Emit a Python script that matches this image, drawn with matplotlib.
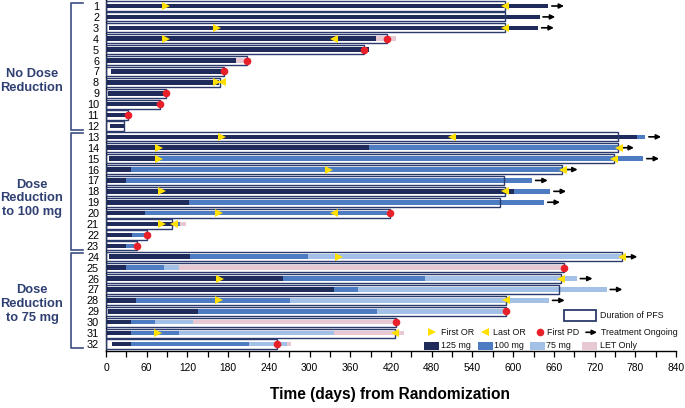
import numpy as np
import matplotlib
matplotlib.use("Agg")
import matplotlib.pyplot as plt
from matplotlib.patches import Rectangle
from matplotlib.lines import Line2D
from matplotlib.ticker import MultipleLocator

nan = np.nan

# patient rows, top to bottom
patients = list(range(1, 33))
# treatment start and cumulative end of each dose phase (days)
start = [0, 0, 4, 0, 0, 0, 7, 0, 3, 0, 0, 6,
         0, 0, 4, 0, 0, 0, 0, 0, 0, 0, 0,
         5, 0, 0, 0, 0, 3, 0, 0, 9]
end_125 = [652, 639, 637, 398, 388, 191, 175, 167, 88, 78, 32, 27,
           783, 388, 74, 37, 29, 601, 122, 57, 97, 39, 30,
           124, 29, 261, 336, 44, 136, 37, 37, 37]
end_100 = [652, 639, 637, 398, 388, 191, 175, 167, 88, 78, 32, 27,
           795, 755, 792, 672, 628, 655, 646, 414, 109, 60, 45,
           298, 85, 470, 372, 271, 400, 72, 107, 211]
end_75 = [652, 639, 637, 398, 388, 191, 175, 167, 88, 78, 32, 27,
          795, 755, 792, 672, 628, 655, 646, 414, 109, 60, 45,
          760, 108, 694, 738, 653, 588, 128, 336, 266]
end_let = [652, 639, 637, 427, 388, 214, 175, 167, 92, 78, 32, 27,
           795, 755, 792, 672, 628, 655, 646, 414, 118, 66, 45,
           760, 675, 694, 738, 653, 588, 428, 439, 273]
pfs = [588, 588, 588, 414, 380, 208, 174, 168, 88, 79, 32, 27,
       755, 755, 749, 672, 587, 588, 581, 419, 97, 60, 45,
       760, 675, 670, 668, 590, 590, 428, 426, 252]
first_or = [89, nan, 163, 89, nan, nan, nan, 164, nan, nan, nan, nan,
            171, 78, 78, 329, nan, 83, nan, 167, 82, nan, nan,
            343, nan, 168, nan, 166, nan, nan, 77, nan]
last_or = [588, nan, 588, 336, nan, nan, nan, 171, nan, nan, nan, nan,
           510, 756, 749, 673, nan, 588, nan, 336, 100, nan, nan,
           760, nan, 671, nan, 590, nan, nan, 426, nan]
first_pd = [nan, nan, nan, 414, 380, 208, 174, nan, 88, 79, 32, nan,
            nan, nan, nan, nan, nan, nan, nan, 419, nan, 60, 45,
            nan, 675, nan, nan, nan, 590, 428, nan, 252]
ongoing = [1, 1, 1, 0, 0, 0, 0, 0, 0, 0, 0, 0,
           1, 1, 1, 1, 1, 1, 1, 0, 0, 0, 0,
           1, 0, 1, 1, 1, 0, 0, 0, 0]

groups = ["No Dose\nReduction", "Dose\nReduction\nto 100 mg", "Dose\nReduction\nto 75 mg"]
group_rows = [(1, 12), (13, 23), (24, 32)]

dose_labels = ["125 mg", "100 mg", "75 mg", "LET Only"]
dose_colors = ["#1f2b5b", "#4d7cc3", "#a3c0e6", "#e8c8d2"]
navy = "#2b3a6c"
label_col = "#2e3f72"
yellow = "#ffe000"
red = "#e8202a"
fam = ["Liberation Sans", "DejaVu Sans"]

W, H = 685, 408
fig = plt.figure(figsize=(W / 100, H / 100), dpi=100)
ax = fig.add_axes([106 / W, (H - 351) / H, (676 - 106) / W, 351 / H])

y = np.array(patients)
bar_h = 0.42
lefts = np.array(start)
for ends, c in zip([end_125, end_100, end_75, end_let], dose_colors):
    ends = np.array(ends)
    ax.barh(y, ends - lefts, left=lefts, height=bar_h, color=c, linewidth=0, zorder=2)
    lefts = np.maximum(lefts, ends)

# PFS boxes
ax.barh(y, pfs, left=0, height=0.84, fill=False, edgecolor=navy, linewidth=1.0, zorder=3)

ax.plot(first_or, y, ">", color=yellow, ms=6, mew=0, zorder=5)
ax.plot(last_or, y, "<", color=yellow, ms=6, mew=0, zorder=5)
ax.plot(first_pd, y, "o", color=red, ms=5.5, mew=0, zorder=5)

for yi, e, on in zip(y, end_let, ongoing):
    if on:
        ax.annotate("", xy=(e + 23, yi), xytext=(e + 5, yi),
                    arrowprops=dict(arrowstyle="-|>", color="black", lw=1.2,
                                    mutation_scale=7, shrinkA=0, shrinkB=0))

ax.set_xlim(0, 840)
ax.set_ylim(32 + 7 / 10.9, 1 - 6 / 10.9)
ax.xaxis.set_major_locator(MultipleLocator(60))
ax.xaxis.set_minor_locator(MultipleLocator(30))
ax.tick_params(axis="x", which="both", length=4.5, width=0.9, direction="out",
               labelsize=7.4, pad=4)
for t in ax.get_xticklabels():
    t.set_family(fam)
ax.set_yticks(y)
ax.set_yticklabels([str(p) for p in patients], family=fam, fontsize=7.8)
ax.tick_params(axis="y", length=0, pad=5)
for s in ["top", "right"]:
    ax.spines[s].set_visible(False)
ax.spines["left"].set_linewidth(1.0)
ax.spines["bottom"].set_linewidth(1.0)

fig.text(390 / W, 1 - 394 / H, "Time (days) from Randomization", ha="center", va="center",
         fontsize=11.2, fontweight="bold", family=fam)


def fx(px):
    return px / W


def fy(py):
    return 1 - py / H


def row_px(r):
    return 6 + (r - 1) * 10.9


# group brackets and labels
label_y = [81, 198.3, 303.7]
for (r0, r1), g, ly in zip(group_rows, groups, label_y):
    top = row_px(r0) - 3.5
    bot = row_px(r1) + 4.5
    fig.add_artist(Line2D([fx(83), fx(71), fx(71), fx(83)], [fy(top), fy(top), fy(bot), fy(bot)],
                          color="#3b4d82", lw=1.2))
    fig.text(fx(32), fy(ly), g, ha="center", va="center", fontsize=9.3, fontweight="bold",
             color=label_col, linespacing=1.2, family=fam)

# legend
leg_font = dict(fontsize=6.4, family=fam, va="center", ha="left", color="#111111")
fig.add_artist(Rectangle((fx(563.5), fy(320.7)), (596 - 563.5) / W, 10.5 / H, transform=fig.transFigure,
                         facecolor="white", edgecolor=navy, lw=1.3))
fig.text(fx(600), fy(315.7), "Duration of PFS", **leg_font)

ly2 = fy(332.3)
fig.add_artist(Line2D([fx(431.7)], [ly2], marker=">", color=yellow, ms=6, mew=0, lw=0))
fig.text(fx(440.7), ly2, "First OR", **leg_font)
fig.add_artist(Line2D([fx(485)], [ly2], marker="<", color=yellow, ms=6, mew=0, lw=0))
fig.text(fx(493.3), ly2, "Last OR", **leg_font)
fig.add_artist(Line2D([fx(540)], [ly2], marker="o", color=red, ms=5.5, mew=0, lw=0))
fig.text(fx(546.7), ly2, "First PD", **leg_font)
ax.annotate("", xy=(fx(597), ly2), xytext=(fx(586), ly2), xycoords="figure fraction",
            textcoords="figure fraction",
            arrowprops=dict(arrowstyle="-|>", color="black", lw=1.2, mutation_scale=7,
                            shrinkA=0, shrinkB=0))
fig.text(fx(600.7), ly2, "Treatment Ongoing", **leg_font)

ly3 = 345.7
sw_x = [424, 478, 530, 582]
tx_x = [440.7, 494.3, 545.7, 600]
for sx, tx, lab, c in zip(sw_x, tx_x, dose_labels, dose_colors):
    fig.add_artist(Rectangle((fx(sx), fy(ly3 + 4.2)), 15 / W, 8.4 / H, transform=fig.transFigure,
                             facecolor=c, edgecolor="none"))
    fig.text(fx(tx), fy(ly3), lab, **leg_font)

fig.savefig("out.png", dpi=100)
